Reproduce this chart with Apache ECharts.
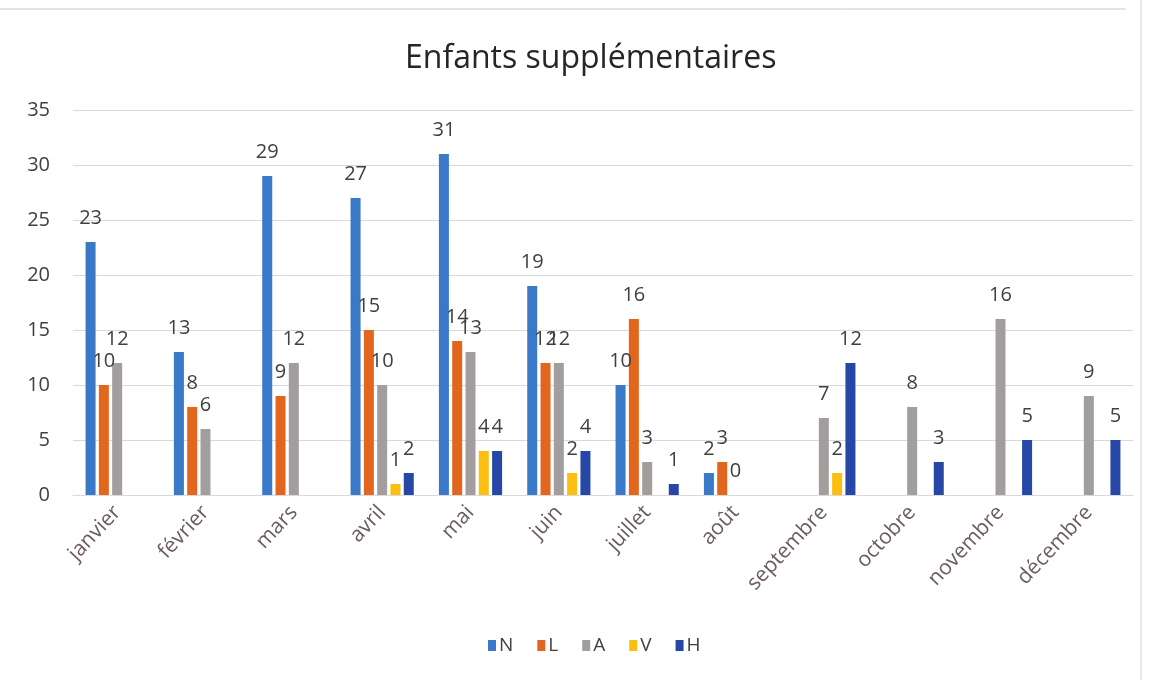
<!DOCTYPE html>
<html>
<head>
<meta charset="utf-8">
<script src="https://cdn.jsdelivr.net/npm/echarts@6/dist/echarts.min.js"></script>
<style>
  html, body { margin: 0; padding: 0; background: #fff; }
  #chart { width: 1153px; height: 680px; }
</style>
</head>
<body>
<div id="chart"></div>
<script>
// mois
const months = ['janvier', 'février', 'mars', 'avril', 'mai', 'juin', 'juillet', 'août', 'septembre', 'octobre', 'novembre', 'décembre'];
// séries (null = pas de barre)
const serieN = [23, 13, 29, 27, 31, 19, 10, 2, null, null, null, null];
const serieL = [10, 8, 9, 15, 14, 12, 16, 3, null, null, null, null];
const serieA = [12, 6, 12, 10, 13, 12, 3, 0, 7, 8, 16, 9];
const serieV = [null, null, null, 1, 4, 2, null, null, 2, null, null, null];
const serieH = [null, null, null, 2, 4, 4, 1, null, 12, 3, 5, 5];
const yTicks = [0, 5, 10, 15, 20, 25, 30, 35];

const font = 'Open Sans';
const colors = ['#3a78c8', '#e2661e', '#a39e9e', '#fdbf0f', '#2647a5'];

function makeSeries(name, data, color) {
  return {
    name: name,
    type: 'bar',
    data: data,
    barWidth: 10,
    barGap: '33%',
    itemStyle: { color: color },
    label: {
      show: true,
      position: 'top',
      distance: 14,
      color: '#404040',
      fontFamily: font,
      fontSize: 20
    }
  };
}

const chart = echarts.init(document.getElementById('chart'));
chart.setOption({
  backgroundColor: '#fff',
  animation: false,
  title: {
    text: 'Enfants supplémentaires',
    left: 400,
    top: 38,
    textStyle: { fontFamily: font, fontSize: 32, fontWeight: 'normal', color: '#262626' }
  },
  legend: {
    bottom: 20,
    left: 483,
    itemWidth: 8,
    itemHeight: 11,
    itemGap: 24,
    icon: 'rect',
    textStyle: { fontFamily: font, fontSize: 19, color: '#404040', padding: [0, 0, 0, -2] },
    data: ['N', 'L', 'A', 'V', 'H']
  },
  grid: { left: 73, right: 20, top: 110, bottom: 185 },
  xAxis: {
    type: 'category',
    data: months,
    axisLine: { lineStyle: { color: '#d9d9d9' } },
    axisTick: { show: false },
    axisLabel: {
      rotate: 47,
      interval: 0,
      margin: 14,
      color: '#6b5b63',
      fontFamily: font,
      fontSize: 21
    }
  },
  yAxis: {
    type: 'value',
    min: yTicks[0],
    max: yTicks[yTicks.length - 1],
    interval: 5,
    axisLine: { show: false },
    axisTick: { show: false },
    splitLine: { lineStyle: { color: '#d9d9d9' } },
    axisLabel: { color: '#404040', fontFamily: font, fontSize: 20, margin: 23 }
  },
  series: [
    makeSeries('N', serieN, colors[0]),
    makeSeries('L', serieL, colors[1]),
    makeSeries('A', serieA, colors[2]),
    makeSeries('V', serieV, colors[3]),
    makeSeries('H', serieH, colors[4])
  ],
  graphic: [
    { type: 'line', shape: { x1: 0, y1: 9, x2: 1126, y2: 9 }, style: { stroke: '#c8c8c8', lineWidth: 1 } },
    { type: 'line', shape: { x1: 1141, y1: 0, x2: 1141, y2: 680 }, style: { stroke: '#d4d4d4', lineWidth: 1 } }
  ]
});
</script>
</body>
</html>
